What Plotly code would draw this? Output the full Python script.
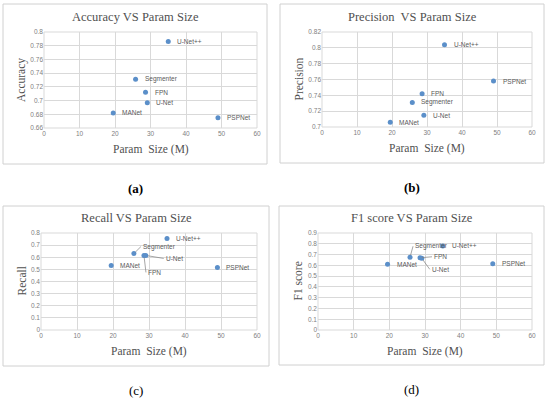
import plotly.graph_objects as go

models = ["MANet", "Segmenter", "FPN", "U-Net", "U-Net++", "PSPNet"]
param_size = [19.5, 25.8, 28.6, 29.1, 35.0, 49.0]
accuracy = [0.682, 0.731, 0.712, 0.697, 0.786, 0.675]
precision = [0.706, 0.731, 0.742, 0.715, 0.804, 0.758]
recall = [0.532, 0.630, 0.615, 0.615, 0.755, 0.515]
f1_score = [0.610, 0.675, 0.670, 0.665, 0.780, 0.615]

panels = [
    dict(title="Accuracy VS Param Size", ytitle="Accuracy", y=accuracy, yrange=[0.66, 0.8], dtick=0.02,
         box=(3, 4, 267, 164), plot=(44, 32, 257, 128), tag="(a)", bold=True,
         leaders={}),
    dict(title="Precision  VS Param Size", ytitle="Precision", y=precision, yrange=[0.7, 0.82], dtick=0.02,
         box=(280, 4, 544, 163), plot=(322, 32, 532, 127), tag="(b)", bold=True,
         leaders={}),
    dict(title="Recall VS Param Size", ytitle="Recall", y=recall, yrange=[0, 0.8], dtick=0.1,
         box=(3, 206, 269, 366), plot=(41, 233, 257, 330), tag="(c)", bold=False,
         leaders={"Segmenter": (7, -7), "U-Net": (18, 3), "FPN": (2, 17)}),
    dict(title="F1 score VS Param Size", ytitle="F1 score", y=f1_score, yrange=[0, 0.9], dtick=0.1,
         box=(279, 206, 544, 365), plot=(318, 233, 532, 330), tag="(d)", bold=False,
         leaders={"Segmenter": (3, -11), "FPN": (12, -1), "U-Net": (8, 11)}),
]

W, H = 550, 398
fx = lambda px: px / W
fy = lambda py: 1 - py / H

fig = go.Figure()
shapes = []
annotations = []
GRID = "#D9D9D9"
TXT = "#595959"
MARK = "#5B8FC9"

for i, p in enumerate(panels):
    n = "" if i == 0 else str(i + 1)
    xa, ya = "x" + n, "y" + n
    x0, y0, x1, y1 = p["plot"]
    fig.add_trace(go.Scatter(x=param_size, y=p["y"], mode="markers", xaxis=xa, yaxis=ya,
                             marker=dict(color=MARK, size=5), showlegend=False, hoverinfo="x+y"))
    common = dict(showgrid=True, gridcolor=GRID, gridwidth=1, zeroline=False, showline=False,
                  ticks="", tickfont=dict(family="Liberation Sans", size=6.5, color="#808080"),
                  fixedrange=True, automargin=False)
    fig.update_layout(**{
        "xaxis" + n: dict(domain=[fx(x0), fx(x1)], range=[0, 60], dtick=10, anchor=ya, **common),
        "yaxis" + n: dict(domain=[fy(y1), fy(y0)], range=p["yrange"], dtick=p["dtick"], anchor=xa, **common),
    })
    shapes.append(dict(type="rect", xref="paper", yref="paper", x0=fx(x0), x1=fx(x1), y0=fy(y1), y1=fy(y0),
                       line=dict(color=GRID, width=1)))
    bx0, by0, bx1, by1 = p["box"]
    shapes.append(dict(type="rect", xref="paper", yref="paper", x0=fx(bx0), x1=fx(bx1), y0=fy(by1), y1=fy(by0),
                       line=dict(color="#D0D0D0", width=1)))
    cx = (bx0 + bx1) / 2
    ctr = dict(xref="paper", yref="paper", showarrow=False, xanchor="center", yanchor="middle")
    annotations.append(dict(text=p["title"], x=fx(cx), y=fy(y0 - 15),
                            font=dict(family="Liberation Serif", size=12.5, color="#505050"), **ctr))
    annotations.append(dict(text="Param  Size (M)", x=fx((x0 + x1) / 2), y=fy(y1 + 21),
                            font=dict(family="Liberation Serif", size=11.5, color="#505050"), **ctr))
    annotations.append(dict(text=p["ytitle"], x=fx(bx0 + 18), y=fy((y0 + y1) / 2), textangle=-90,
                            font=dict(family="Liberation Serif", size=11.5, color="#505050"), **ctr))
    tag = "<b>" + p["tag"] + "</b>" if p["bold"] else p["tag"]
    annotations.append(dict(text=tag, x=fx(cx), y=fy(by1 + 24),
                            font=dict(family="Liberation Serif", size=13, color="#000000"), **ctr))
    for m, xv, yv in zip(models, param_size, p["y"]):
        if m in p["leaders"]:
            ax, ay = p["leaders"][m]
            annotations.append(dict(text=m, xref=xa, yref=ya, x=xv, y=yv, showarrow=True, arrowhead=0,
                                    arrowwidth=0.7, arrowcolor="#7F7F7F", ax=ax, ay=ay, xanchor="left",
                                    yanchor="middle", standoff=2, startstandoff=0,
                                    font=dict(family="Liberation Sans", size=6.5, color=TXT)))
        else:
            annotations.append(dict(text=m, xref=xa, yref=ya, x=xv, y=yv, showarrow=False, xanchor="left",
                                    yanchor="middle", xshift=7,
                                    font=dict(family="Liberation Sans", size=6.5, color=TXT)))

fig.update_layout(width=W, height=H, margin=dict(l=0, r=0, t=0, b=0, autoexpand=False), plot_bgcolor="white",
                  paper_bgcolor="white", shapes=shapes, annotations=annotations)
fig.write_html("out.html", config={"displayModeBar": False},
               post_script="document.body.style.margin='0px';")
